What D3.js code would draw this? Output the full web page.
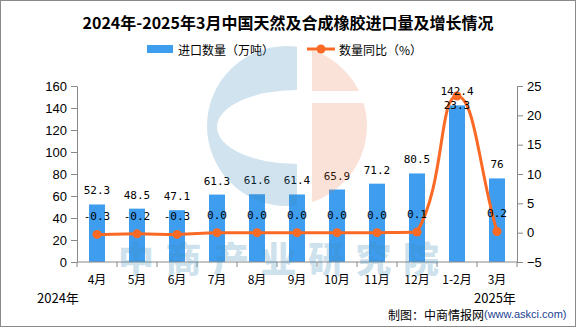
<!DOCTYPE html>
<html>
<head>
<meta charset="utf-8">
<script src="https://cdn.jsdelivr.net/npm/d3@7"></script>
<style>
  html, body { margin: 0; padding: 0; background: #fff; }
  svg { display: block; }
</style>
</head>
<body>
<svg id="chart" width="576" height="327"></svg>
<script>
// Monthly rubber imports (10k tonnes) and year-on-year change (%)
const categories = ["4月", "5月", "6月", "7月", "8月", "9月", "10月", "11月", "12月", "1-2月", "3月"];
const importVolume = [52.3, 48.5, 47.1, 61.3, 61.6, 61.4, 65.9, 71.2, 80.5, 142.4, 76];
const yoyChange = [-0.3, -0.2, -0.3, 0.0, 0.0, 0.0, 0.0, 0.0, 0.1, 23.3, 0.2];
const leftTicks = [0, 20, 40, 60, 80, 100, 120, 140, 160];
const rightTicks = [-5, 0, 5, 10, 15, 20, 25];

const CJK = "'Noto Sans CJK SC', 'Noto Sans', sans-serif";
const NUM = "'Liberation Sans', Arial, sans-serif";
const MONO = "'DejaVu Sans Mono', monospace";
const BAR = "#3f9df0";
const LINE = "#fb6a24";

const svg = d3.select("#chart");
const W = 576, H = 327;
const plot = { left: 77, right: 517, top: 86, bottom: 262 };

// frame
svg.append("rect").attr("x", 0.5).attr("y", 0.5).attr("width", W - 1).attr("height", H - 1)
  .attr("fill", "#fff").attr("stroke", "#8a8a8a");

const x = d3.scaleBand().domain(categories).range([plot.left, plot.right]).padding(0);
const yL = d3.scaleLinear().domain([0, 160]).range([plot.bottom, plot.top]);
const yR = d3.scaleLinear().domain([-5, 25]).range([plot.bottom, plot.top]);

// title
svg.append("text").attr("x", 288).attr("y", 22).attr("text-anchor", "middle")
  .attr("dominant-baseline", "central")
  .style("font-family", CJK).style("font-weight", "bold").style("font-size", "16px")
  .text("2024年-2025年3月中国天然及合成橡胶进口量及增长情况");

// legend
const lg = svg.append("g");
lg.append("rect").attr("x", 147).attr("y", 45).attr("width", 26).attr("height", 8).attr("fill", BAR);
lg.append("text").attr("x", 178).attr("y", 49).attr("dominant-baseline", "central")
  .style("font-family", CJK).style("font-size", "12px").text("进口数量（万吨）");
lg.append("line").attr("x1", 307).attr("x2", 335).attr("y1", 49).attr("y2", 49)
  .attr("stroke", LINE).attr("stroke-width", 3);
lg.append("circle").attr("cx", 321).attr("cy", 49).attr("r", 4.5).attr("fill", LINE);
lg.append("text").attr("x", 339).attr("y", 49).attr("dominant-baseline", "central")
  .style("font-family", CJK).style("font-size", "12px").text("数量同比（%）");

// bars
svg.append("g").selectAll("rect").data(importVolume).join("rect")
  .attr("x", (d, i) => x(categories[i]) + x.bandwidth() * 0.3)
  .attr("width", x.bandwidth() * 0.4)
  .attr("y", d => yL(d))
  .attr("height", d => yL(0) - yL(d))
  .attr("fill", BAR);

// axes
const axisColor = "#888";
const gL = svg.append("g").attr("transform", `translate(${plot.left},0)`)
  .call(d3.axisLeft(yL).tickValues(leftTicks).tickSize(6).tickSizeOuter(0).tickPadding(4));
const gR = svg.append("g").attr("transform", `translate(${plot.right},0)`)
  .call(d3.axisRight(yR).tickValues(rightTicks).tickSize(6).tickSizeOuter(0).tickPadding(4));
[gL, gR].forEach(g => {
  g.selectAll("path, line").attr("stroke", axisColor);
  g.selectAll("text").style("font-family", NUM).style("font-size", "13px").attr("fill", "#000");
});

const gX = svg.append("g").attr("transform", `translate(0,${plot.bottom})`);
gX.append("line").attr("x1", plot.left).attr("x2", plot.right).attr("stroke", axisColor);
const bounds = categories.map(c => x(c)).concat([plot.right]);
gX.selectAll("line.tick").data(bounds).join("line").attr("class", "tick")
  .attr("x1", d => d).attr("x2", d => d).attr("y1", 0).attr("y2", 5).attr("stroke", axisColor);
gX.selectAll("text").data(categories).join("text")
  .attr("x", d => x(d) + x.bandwidth() / 2).attr("y", 16).attr("text-anchor", "middle")
  .attr("dominant-baseline", "central")
  .style("font-family", CJK).style("font-size", "12px").text(d => d);

// smooth bezier through the points; handles follow the neighbour direction,
// sized by adjacent segment lengths, with y held inside each segment's range
function smoothPath(p, s) {
  const n = p.length;
  const cpIn = [], cpOut = [];
  for (let i = 0; i < n; i++) {
    const prev = p[Math.max(i - 1, 0)], cur = p[i], next = p[Math.min(i + 1, n - 1)];
    const vx = next[0] - prev[0], vy = next[1] - prev[1];
    const d0 = Math.hypot(cur[0] - prev[0], cur[1] - prev[1]);
    const d1 = Math.hypot(next[0] - cur[0], next[1] - cur[1]);
    const sum = d0 + d1 || 1;
    let ix = cur[0] - vx * s * d0 / sum, iy = cur[1] - vy * s * d0 / sum;
    let ox = cur[0] + vx * s * d1 / sum, oy = cur[1] + vy * s * d1 / sum;
    iy = Math.min(Math.max(iy, Math.min(prev[1], cur[1])), Math.max(prev[1], cur[1]));
    oy = Math.min(Math.max(oy, Math.min(next[1], cur[1])), Math.max(next[1], cur[1]));
    cpIn.push([ix, iy]); cpOut.push([ox, oy]);
  }
  const path = d3.path();
  path.moveTo(p[0][0], p[0][1]);
  for (let i = 1; i < n; i++) {
    path.bezierCurveTo(cpOut[i - 1][0], cpOut[i - 1][1], cpIn[i][0], cpIn[i][1], p[i][0], p[i][1]);
  }
  return path.toString();
}

// growth line
const pts = yoyChange.map((v, i) => [x(categories[i]) + x.bandwidth() / 2, yR(v)]);
svg.append("path").attr("d", smoothPath(pts, 0.45))
  .attr("fill", "none").attr("stroke", LINE).attr("stroke-width", 3);
svg.append("g").selectAll("circle").data(pts).join("circle")
  .attr("cx", d => d[0]).attr("cy", d => d[1]).attr("r", 4.5).attr("fill", LINE);

// value labels
svg.append("g").selectAll("text").data(importVolume).join("text")
  .attr("x", (d, i) => x(categories[i]) + x.bandwidth() / 2)
  .attr("y", d => yL(d) - 10)
  .attr("text-anchor", "middle")
  .style("font-family", MONO).style("font-size", "11px")
  .text(d => String(d));
svg.append("g").selectAll("text").data(yoyChange).join("text")
  .attr("x", (d, i) => x(categories[i]) + x.bandwidth() / 2)
  .attr("y", d => Math.max(yR(d) - 14, plot.top + 23))
  .attr("text-anchor", "middle")
  .style("font-family", MONO).style("font-size", "11px")
  .text(d => d.toFixed(1));

// year notes and source
svg.append("text").attr("x", 37).attr("y", 297).attr("dominant-baseline", "central")
  .style("font-family", CJK).style("font-size", "13px").text("2024年");
svg.append("text").attr("x", 474).attr("y", 297).attr("dominant-baseline", "central")
  .style("font-family", CJK).style("font-size", "13px").text("2025年");
const src = svg.append("text").attr("x", 388).attr("y", 314).attr("dominant-baseline", "central")
  .style("font-family", CJK).style("font-size", "12px");
src.append("tspan").text("制图：中商情报网");
src.append("tspan").attr("fill", "#1d3f8f").style("font-size", "11px")
  .style("font-family", "'Liberation Sans', Arial, sans-serif").text("(www.askci.com)");

// watermark logo and name
const defs = svg.append("defs");
const cx = 287, cy = 126, r = 80;
const mBlue = defs.append("mask").attr("id", "mBlue");
mBlue.append("rect").attr("x", 0).attr("y", 0).attr("width", 297).attr("height", H).attr("fill", "#fff");
mBlue.append("ellipse").attr("cx", 297).attr("cy", 127).attr("rx", 80).attr("ry", 37).attr("fill", "#000");
const mPeach = defs.append("mask").attr("id", "mPeach");
mPeach.append("rect").attr("x", 312).attr("y", 0).attr("width", W - 312).attr("height", H).attr("fill", "#fff");
mPeach.append("rect").attr("x", 312).attr("y", 91).attr("width", W - 312).attr("height", 12).attr("fill", "#000");

const wm = svg.append("g").style("pointer-events", "none");
wm.append("circle").attr("cx", cx).attr("cy", cy).attr("r", r)
  .attr("fill", "rgb(60,140,185)").attr("fill-opacity", 0.24).attr("mask", "url(#mBlue)");
wm.append("circle").attr("cx", cx).attr("cy", cy).attr("r", r)
  .attr("fill", "rgb(236,110,60)").attr("fill-opacity", 0.2).attr("mask", "url(#mPeach)");
wm.append("text").attr("x", 118).attr("y", 257).attr("dominant-baseline", "central")
  .style("font-family", CJK).style("font-weight", "900").style("font-size", "36px")
  .style("letter-spacing", "11.5px")
  .attr("fill", "rgb(60,140,185)").attr("fill-opacity", 0.26)
  .text("中商产业研究院");
</script>
</body>
</html>
